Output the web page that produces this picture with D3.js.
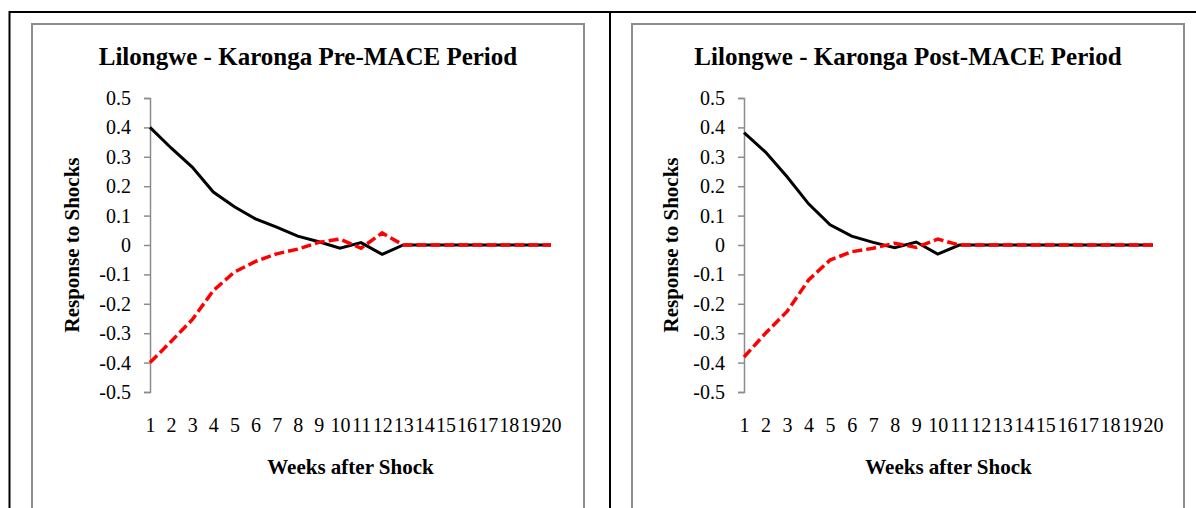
<!DOCTYPE html>
<html>
<head>
    <meta charset="utf-8" />
    <title>Lilongwe - Karonga impulse responses</title>
    <script src="https://cdn.jsdelivr.net/npm/d3@7"></script>
    <style>
        body { margin: 0; background: #fff; }
        svg { display: block; font-family: "Liberation Serif", "Times New Roman", serif; }
    </style>
</head>
<body>
    <svg id="chart" width="1196" height="508"></svg>
    <script>
        // weeks after shock (category axis)
        const weeks = [1, 2, 3, 4, 5, 6, 7, 8, 9, 10, 11, 12, 13, 14, 15, 16, 17, 18, 19, 20];
        const yTicks = [0.5, 0.4, 0.3, 0.2, 0.1, 0, -0.1, -0.2, -0.3, -0.4, -0.5];

        // responses
        const preBlack = [0.40, 0.33, 0.265, 0.18, 0.13, 0.089, 0.061, 0.03, 0.011, -0.011, 0.008, -0.032, 0, 0, 0, 0, 0, 0, 0, 0];
        const preRed = [-0.40, -0.328, -0.254, -0.155, -0.092, -0.056, -0.03, -0.014, 0.009, 0.02, -0.011, 0.041, 0, 0, 0, 0, 0, 0, 0, 0];
        const postBlack = [0.382, 0.316, 0.232, 0.14, 0.069, 0.03, 0.009, -0.009, 0.01, -0.031, 0, 0, 0, 0, 0, 0, 0, 0, 0, 0];
        const postRed = [-0.381, -0.30, -0.226, -0.119, -0.051, -0.023, -0.011, 0.006, -0.008, 0.02, 0, 0, 0, 0, 0, 0, 0, 0, 0, 0];

        const svg = d3.select('#chart');

        // table lines around the two panels
        svg.append('line').attr('x1', 9).attr('x2', 1196).attr('y1', 12).attr('y2', 12)
            .attr('stroke', '#000').attr('stroke-width', 2);
        svg.append('line').attr('x1', 9.5).attr('x2', 9.5).attr('y1', 11).attr('y2', 508)
            .attr('stroke', '#000').attr('stroke-width', 2);
        svg.append('line').attr('x1', 610).attr('x2', 610).attr('y1', 11).attr('y2', 508)
            .attr('stroke', '#000').attr('stroke-width', 2);

        const panels = [
            { title: 'Lilongwe - Karonga Pre-MACE Period', box: [32, 584], x: [150, 551], yTitleX: 72, black: preBlack, red: preRed },
            { title: 'Lilongwe - Karonga Post-MACE Period', box: [632, 1184], x: [744, 1153], yTitleX: 671, black: postBlack, red: postRed }
        ];

        const y = d3.scaleLinear().domain([-0.5, 0.5]).range([392, 98]);
        // plain hyphen for negatives, like the original
        const fmt = d => d === 0 ? '0' : d3.format('.1f')(d).replace('\u2212', '-');

        panels.forEach(p => {
            const g = svg.append('g');

            g.append('rect')
                .attr('x', p.box[0]).attr('y', 24)
                .attr('width', p.box[1] - p.box[0]).attr('height', 500)
                .attr('fill', '#fff').attr('stroke', '#8c8c8c').attr('stroke-width', 2);

            g.append('text')
                .attr('x', (p.box[0] + p.box[1]) / 2).attr('y', 65)
                .attr('text-anchor', 'middle')
                .style('font-size', '25px').style('font-weight', 'bold')
                .text(p.title);

            const x = d3.scalePoint().domain(weeks).range(p.x);

            // y axis with outward ticks
            const ya = g.append('g')
                .attr('transform', `translate(${p.x[0]},0)`)
                .call(d3.axisLeft(y).tickValues(yTicks).tickSize(6).tickPadding(13).tickFormat(fmt));
            ya.select('.domain').attr('stroke', '#8c8c8c').attr('stroke-width', 1.5);
            ya.selectAll('.tick line').attr('stroke', '#8c8c8c').attr('stroke-width', 1.5);
            ya.selectAll('text').style('font-size', '20px').attr('fill', '#000')
                .style('font-family', '"Liberation Serif", serif');

            // category labels below the plot
            const xa = g.append('g')
                .attr('transform', `translate(0,${y(-0.5)})`)
                .call(d3.axisBottom(x).tickSize(0).tickPadding(26));
            xa.select('.domain').remove();
            xa.selectAll('text').style('font-size', '20px').attr('fill', '#000')
                .style('font-family', '"Liberation Serif", serif');

            g.append('text')
                .attr('x', (p.x[0] + p.x[1]) / 2).attr('y', 474)
                .attr('text-anchor', 'middle')
                .style('font-size', '21px').style('font-weight', 'bold')
                .text('Weeks after Shock');

            g.append('text')
                .attr('transform', `translate(${p.yTitleX},${y(0)}) rotate(-90)`)
                .attr('text-anchor', 'middle').attr('dy', '0.35em')
                .style('font-size', '21px').style('font-weight', 'bold')
                .text('Response to Shocks');

            const line = d3.line()
                .x((d, i) => x(weeks[i]))
                .y(d => y(d));

            g.append('path')
                .datum(p.black)
                .attr('d', line)
                .attr('fill', 'none').attr('stroke', '#000').attr('stroke-width', 3);

            g.append('path')
                .datum(p.red)
                .attr('d', line)
                .attr('fill', 'none').attr('stroke', '#ff0000').attr('stroke-width', 3.5)
                .attr('stroke-dasharray', '10,4');
        });
    </script>
</body>
</html>
